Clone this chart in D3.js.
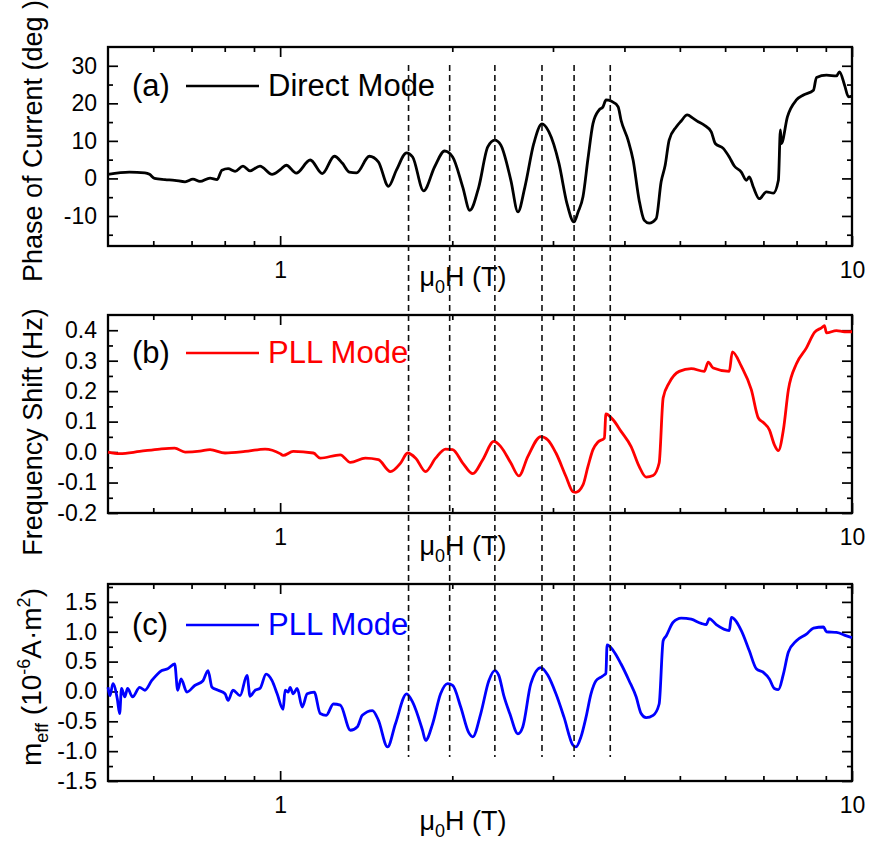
<!DOCTYPE html>
<html><head><meta charset="utf-8">
<script src="https://cdn.jsdelivr.net/npm/d3@7"></script>
<style>body{margin:0;background:#fff} svg text{font-family:"Liberation Sans",Arial,Helvetica,sans-serif;fill:#000}</style>
</head><body><svg id="chart" width="871" height="845"></svg>
<script>
// ---- data: [field (T), value] ----
const phaseData = [[0.500,1.1],[0.545,1.7],[0.580,1.5],[0.591,1.1],[0.603,0.0],[0.629,-0.3],[0.654,-0.5],[0.682,-0.9],[0.704,-0.2],[0.724,-0.8],[0.754,0.1],[0.776,-0.3],[0.791,2.2],[0.811,2.6],[0.834,1.9],[0.861,3.3],[0.886,2.0],[0.922,3.3],[0.968,1.1],[1.000,2.3],[1.025,3.5],[1.067,1.4],[1.129,4.9],[1.185,1.3],[1.244,5.9],[1.284,4.1],[1.321,1.7],[1.360,1.5],[1.432,5.9],[1.485,4.4],[1.547,-2.1],[1.597,2.2],[1.664,6.8],[1.705,5.7],[1.782,-3.3],[1.863,3.1],[1.939,7.3],[2.003,5.7],[2.086,-2.3],[2.146,-8.5],[2.225,-2.3],[2.307,8.4],[2.373,10.2],[2.431,8.9],[2.532,-0.5],[2.605,-8.9],[2.679,-2.3],[2.777,9.3],[2.869,14.5],[2.951,12.4],[3.073,4.0],[3.174,-6.7],[3.264,-11.6],[3.318,-9.0],[3.385,-4.9],[3.454,5.3],[3.524,14.6],[3.611,18.2],[3.670,19.1],[3.714,20.9],[3.790,20.6],[3.899,19.1],[3.946,15.5],[4.059,10.2],[4.142,4.9],[4.244,-5.8],[4.330,-11.1],[4.419,-11.9],[4.545,-10.7],[4.637,-0.9],[4.713,3.5],[4.789,10.2],[4.927,13.7],[5.027,15.3],[5.150,16.9],[5.276,16.0],[5.384,15.1],[5.515,14.2],[5.674,12.4],[5.766,9.3],[5.955,8.0],[6.101,5.7],[6.226,3.3],[6.404,1.7],[6.535,-0.5],[6.614,0.4],[6.721,-2.3],[6.886,-5.4],[7.084,-3.6],[7.287,-3.9],[7.435,-0.5],[7.496,12.9],[7.525,9.3],[7.710,16.4],[7.995,20.9],[8.224,22.2],[8.563,23.5],[8.667,26.9],[9.023,27.5],[9.395,27.3],[9.509,28.4],[9.703,24.9],[9.861,21.7],[10.0,21.9]];

const freqData = [[0.500,0],[0.524,-0.005],[0.568,0.002],[0.616,0.01],[0.654,0.013],[0.682,0],[0.724,0.003],[0.754,0.008],[0.801,-0.003],[0.868,0.002],[0.941,0.01],[1.000,-0.005],[1.012,-0.011],[1.054,0.002],[1.143,-0.003],[1.175,-0.02],[1.274,-0.009],[1.327,-0.034],[1.409,-0.02],[1.485,-0.025],[1.559,-0.064],[1.624,-0.036],[1.671,-0.003],[1.726,-0.02],[1.796,-0.064],[1.870,-0.02],[1.947,0.01],[2.003,0.008],[2.086,-0.036],[2.172,-0.071],[2.261,-0.025],[2.364,0.035],[2.431,0.018],[2.532,-0.036],[2.615,-0.078],[2.712,-0.014],[2.857,0.051],[2.939,0.040],[3.036,-0.003],[3.161,-0.08],[3.251,-0.13],[3.291,-0.132],[3.385,-0.108],[3.454,-0.047],[3.524,0.008],[3.596,0.033],[3.690,0.046],[3.712,0.125],[3.821,0.106],[3.946,0.068],[4.109,0.018],[4.244,-0.047],[4.365,-0.082],[4.490,-0.077],[4.600,-0.036],[4.675,0.178],[4.789,0.227],[4.987,0.265],[5.234,0.274],[5.515,0.265],[5.605,0.295],[5.720,0.276],[6.101,0.265],[6.176,0.329],[6.404,0.282],[6.667,0.205],[6.858,0.112],[6.998,0.097],[7.170,0.073],[7.316,0.024],[7.435,0.005],[7.586,0.073],[7.741,0.205],[7.995,0.290],[8.324,0.342],[8.598,0.393],[8.843,0.408],[8.951,0.415],[9.023,0.391],[9.395,0.399],[9.703,0.395],[10.0,0.395]];

const momentData = [[0.500,0.07],[0.504,-0.07],[0.510,0.13],[0.519,-0.12],[0.524,-0.37],[0.528,0.05],[0.535,-0.09],[0.541,0.05],[0.552,-0.09],[0.568,0.07],[0.580,0.02],[0.596,0.18],[0.610,0.29],[0.621,0.35],[0.636,0.38],[0.654,0.46],[0.662,0.02],[0.671,0.21],[0.687,-0.01],[0.709,0.10],[0.733,0.18],[0.748,0.35],[0.760,0.07],[0.779,0.02],[0.801,-0.04],[0.811,-0.15],[0.827,0.02],[0.851,-0.07],[0.875,0.27],[0.886,-0.08],[0.904,0.02],[0.922,0.05],[0.945,0.29],[0.968,0.18],[0.988,-0.04],[1.012,-0.30],[1.020,0.02],[1.033,-0.01],[1.041,0.07],[1.054,-0.04],[1.071,0.05],[1.093,-0.26],[1.115,-0.04],[1.147,-0.01],[1.175,-0.37],[1.204,-0.40],[1.239,-0.21],[1.274,-0.23],[1.327,-0.65],[1.365,-0.59],[1.392,-0.40],[1.450,-0.32],[1.485,-0.48],[1.541,-0.93],[1.591,-0.54],[1.664,-0.04],[1.705,-0.18],[1.774,-0.65],[1.796,-0.82],[1.848,-0.54],[1.908,-0.04],[1.963,0.13],[2.003,0.10],[2.069,-0.26],[2.137,-0.69],[2.172,-0.76],[2.243,-0.37],[2.317,0.18],[2.373,0.35],[2.412,0.27],[2.461,-0.07],[2.521,-0.37],[2.605,-0.71],[2.657,-0.59],[2.744,0.13],[2.857,0.40],[2.939,0.27],[3.036,-0.04],[3.136,-0.43],[3.251,-0.90],[3.291,-0.93],[3.358,-0.76],[3.427,-0.43],[3.496,-0.04],[3.567,0.18],[3.640,0.24],[3.690,0.28],[3.712,0.30],[3.730,0.78],[3.821,0.69],[3.946,0.46],[4.076,0.18],[4.193,-0.09],[4.278,-0.37],[4.365,-0.44],[4.490,-0.40],[4.600,-0.21],[4.675,0.85],[4.732,0.93],[4.867,1.16],[5.027,1.23],[5.234,1.21],[5.449,1.14],[5.560,1.12],[5.628,1.22],[5.790,1.12],[6.101,1.02],[6.151,1.24],[6.404,1.02],[6.614,0.68],[6.803,0.38],[6.998,0.32],[7.170,0.21],[7.316,0.05],[7.435,0.03],[7.586,0.29],[7.741,0.66],[7.995,0.85],[8.324,0.96],[8.563,1.06],[8.915,1.08],[9.023,1.0],[9.395,0.99],[9.782,0.93],[10.0,0.90]];

const dashFields = [1.677, 1.979, 2.374, 2.870, 3.266, 3.778];
const xMajorTicks = [1, 10];
const xMinorTicks = [0.6, 0.7, 0.8, 0.9, 2, 3, 4, 5, 6, 7, 8, 9];
const phaseTicks = [-10, 0, 10, 20, 30];
const phaseMinor = [-15, -5, 5, 15, 25];
const freqTicks = [-0.2, -0.1, 0.0, 0.1, 0.2, 0.3, 0.4];
const freqMinor = [-0.15, -0.05, 0.05, 0.15, 0.25, 0.35];
const momentTicks = [-1.5, -1.0, -0.5, 0.0, 0.5, 1.0, 1.5];
const momentMinor = [-1.25, -0.75, -0.25, 0.25, 0.75, 1.25, 1.75];
const legendLabels = ["Direct Mode", "PLL Mode", "PLL Mode"];
const panelLetters = ["(a)", "(b)", "(c)"];

// ---- layout ----
const svg = d3.select("#chart");
const L = 108, R = 852;
const x = d3.scaleLog().domain([0.5, 10]).range([L, R]);

const panels = [
  {top:47, bottom:246, domain:[-18,35], data:phaseData, color:"#000000", major:phaseTicks, minor:phaseMinor,
   fmt:d=>String(d), legendY:96, xTitleY:286, yTitleY:141},
  {top:315, bottom:513, domain:[-0.2,0.45], data:freqData, color:"#ff0000", major:freqTicks, minor:freqMinor,
   fmt:d=>d.toFixed(1), legendY:363, xTitleY:555, yTitleY:432},
  {top:584, bottom:781, domain:[-1.5,1.8], data:momentData, color:"#0000ff", major:momentTicks, minor:momentMinor,
   fmt:d=>d.toFixed(1), legendY:635, xTitleY:830, yTitleY:677}
];

function styleAxis(g){
  g.select(".domain").remove();
  g.attr("font-family", null).attr("font-size", null);
  g.selectAll(".tick line").attr("stroke", "#000").attr("stroke-width", 1.7);
  g.selectAll(".tick text").attr("font-size", 23).attr("fill", "#000");
}

panels.forEach((p, i) => {
  const y = d3.scaleLinear().domain(p.domain).range([p.bottom, p.top]);
  const g = svg.append("g");

  g.append("g").attr("transform", `translate(0,${p.bottom})`)
    .call(d3.axisBottom(x).tickValues(xMajorTicks).tickSize(-10).tickPadding(16).tickFormat(d=>String(d))).call(styleAxis);
  g.append("g").attr("transform", `translate(0,${p.bottom})`)
    .call(d3.axisBottom(x).tickValues(xMinorTicks).tickSize(-5).tickFormat("")).call(styleAxis);
  g.append("g").attr("transform", `translate(0,${p.top})`)
    .call(d3.axisTop(x).tickValues(xMajorTicks).tickSize(-10).tickFormat("")).call(styleAxis);
  g.append("g").attr("transform", `translate(0,${p.top})`)
    .call(d3.axisTop(x).tickValues(xMinorTicks).tickSize(-5).tickFormat("")).call(styleAxis);
  g.append("g").attr("transform", `translate(${L},0)`)
    .call(d3.axisLeft(y).tickValues(p.major).tickSize(-10).tickPadding(11).tickFormat(p.fmt)).call(styleAxis);
  g.append("g").attr("transform", `translate(${L},0)`)
    .call(d3.axisLeft(y).tickValues(p.minor).tickSize(-5).tickFormat("")).call(styleAxis);
  g.append("g").attr("transform", `translate(${R},0)`)
    .call(d3.axisRight(y).tickValues(p.major).tickSize(-10).tickFormat("")).call(styleAxis);
  g.append("g").attr("transform", `translate(${R},0)`)
    .call(d3.axisRight(y).tickValues(p.minor).tickSize(-5).tickFormat("")).call(styleAxis);

  g.append("rect").attr("x", L).attr("y", p.top).attr("width", R - L).attr("height", p.bottom - p.top)
    .attr("fill", "none").attr("stroke", "#000").attr("stroke-width", 2.3);

  const line = d3.line().x(d => x(d[0])).y(d => y(d[1])).curve(d3.curveMonotoneX);
  g.append("path").datum(p.data).attr("d", line).attr("fill", "none")
    .attr("stroke", p.color).attr("stroke-width", 2.8).attr("stroke-linejoin", "round");

  g.append("text").attr("x", 132).attr("y", p.legendY).attr("font-size", 31).text(panelLetters[i]);
  g.append("line").attr("x1", 186).attr("x2", 259).attr("y1", p.legendY - 10).attr("y2", p.legendY - 10)
    .attr("stroke", p.color).attr("stroke-width", 2.6);
  g.append("text").attr("x", 268).attr("y", p.legendY).attr("font-size", 31)
    .style("fill", p.color).text(legendLabels[i]);

  const xt = g.append("text").attr("x", 463).attr("y", p.xTitleY).attr("text-anchor", "middle").attr("font-size", 27);
  xt.append("tspan").text("μ");
  xt.append("tspan").attr("font-size", 18).attr("dy", 7).text("0");
  xt.append("tspan").attr("dy", -7).text("H (T)");
});

svg.append("text").attr("transform", "translate(42,141) rotate(-90)").attr("text-anchor", "middle")
  .attr("font-size", 27).text("Phase of Current (deg )");
svg.append("text").attr("transform", "translate(42,432) rotate(-90)").attr("text-anchor", "middle")
  .attr("font-size", 27).text("Frequency Shift (Hz)");
const mt = svg.append("text").attr("transform", "translate(41,677) rotate(-90)").attr("text-anchor", "middle")
  .attr("font-size", 28);
mt.append("tspan").text("m");
mt.append("tspan").attr("font-size", 18).attr("dy", 7).text("eff");
mt.append("tspan").attr("dy", -7).text(" (10");
mt.append("tspan").attr("font-size", 18).attr("dy", -11).text("-6");
mt.append("tspan").attr("dy", 11).text("A·m");
mt.append("tspan").attr("font-size", 18).attr("dy", -11).text("2");
mt.append("tspan").attr("dy", 11).text(")");

svg.append("g").selectAll("line").data(dashFields).join("line")
  .attr("x1", d => x(d)).attr("x2", d => x(d)).attr("y1", 65).attr("y2", 757)
  .attr("stroke", "#111").attr("stroke-width", 1.6).attr("stroke-dasharray", "6,4");
</script></body></html>
